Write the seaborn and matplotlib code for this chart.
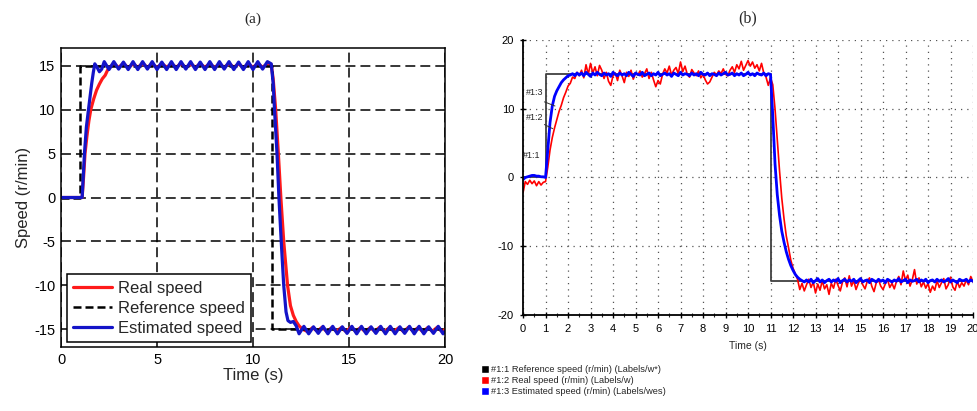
import numpy as np
import pandas as pd
import matplotlib
matplotlib.use("Agg")
import matplotlib.pyplot as plt
from matplotlib.lines import Line2D
from matplotlib.patches import Patch
import seaborn as sns

# ---------------- data: panel (a) ----------------
ref_a_t = [0, 1, 1, 11, 11, 20]
ref_a_v = [0, 0, 15, 15, -15, -15]

real_a_t = ([0.0, 1.1, 1.18, 1.25, 1.35, 1.45, 1.55, 1.7, 1.85, 2.0, 2.15, 2.3, 2.45]
            + list(np.arange(2.75, 10.8, 0.25))
            + [10.95, 11.05, 11.18, 11.32, 11.45, 11.6, 11.8, 11.95, 12.1, 12.25, 12.4, 12.6]
            + list(np.arange(12.85, 19.9, 0.25)) + [20.0])
real_a_v = ([0, 0, 2.5, 5, 7, 8.7, 10, 11.2, 12.2, 12.9, 13.5, 13.9, 14.6]
            + [15.2, 14.8, 15.25, 14.75, 15.2, 14.8, 15.25, 14.8, 15.2, 14.75, 15.25,
               14.8, 15.2, 14.8, 15.25, 14.75, 15.2, 14.8, 15.2, 14.8, 15.25, 14.75,
               15.2, 14.8, 15.25, 14.8, 15.2, 14.75, 15.2, 14.8, 15.25, 14.8, 15.2]
            + [15.1, 13.5, 10, 5, 0, -5, -10, -12.3, -13.4, -14.1, -14.6, -15.0]
            + [-15.25, -14.8, -15.2, -14.75, -15.25, -14.8, -15.2, -14.8, -15.25, -14.75,
               -15.2, -14.8, -15.25, -14.8, -15.2, -14.75, -15.25, -14.8, -15.2, -14.8,
               -15.25, -14.75, -15.2, -14.8, -15.25, -14.8, -15.2, -14.75, -15.25]
            + [-15.0])

est_a_t = ([0.0, 1.1, 1.22, 1.32, 1.43, 1.52, 1.6, 1.68, 1.76, 1.88, 2.0, 2.12]
           + list(np.arange(2.25, 10.8, 0.25))
           + [10.95, 11.05, 11.12, 11.25, 11.35, 11.47, 11.6, 11.72, 11.82, 11.95, 12.1, 12.25]
           + list(np.arange(12.4, 19.95, 0.25)) + [20.0])
est_a_v = ([0, 0, 5, 8, 10, 11.6, 13, 14.2, 15.2, 14.8, 14.3, 14.6]
           + [15.45, 14.55, 15.45, 14.6, 15.4, 14.55, 15.45, 14.55, 15.45, 14.6, 15.45, 14.55,
              15.4, 14.55, 15.45, 14.55, 15.45, 14.6, 15.45, 14.55, 15.4, 14.55, 15.45, 14.55,
              15.45, 14.6, 15.45, 14.55, 15.4, 14.55, 15.45, 14.55, 15.45, 14.6, 15.45]
           + [15.2, 13.0, 10.0, 5.0, 0.0, -5.0, -10.0, -13.0, -14.0, -14.2, -14.1, -14.6]
           + [-15.5, -14.65, -15.5, -14.7, -15.45, -14.65, -15.5, -14.65, -15.5, -14.7,
              -15.45, -14.65, -15.5, -14.65, -15.5, -14.7, -15.45, -14.65, -15.5, -14.65,
              -15.5, -14.7, -15.45, -14.65, -15.5, -14.65, -15.5, -14.7, -15.45, -14.65,
              -15.5]
           + [-15.2])

# ---------------- data: panel (b) ----------------
ref_b_t = [0, 1, 1, 11, 11, 20]
ref_b_v = [0, 0, 15, 15, -15, -15]

time_b = np.round(np.linspace(0, 20, 201), 2)

real_b = [
    -2.2, -0.6, -1.0, -0.4, -0.9, -0.5, -1.2, -0.6, -1.1, -0.7, -0.6,
    1.5, 4.0, 5.8, 7.2, 8.4, 9.6, 10.5, 11.6, 12.4, 13.3, 13.7, 14.6, 14.4, 15.3,
    14.8, 15.6, 14.5, 16.4, 15.0, 16.6,
    15.2, 16.1, 14.8, 16.3, 15.6, 14.4, 15.3, 14.0, 13.4, 14.8,
    15.2, 14.1, 15.6, 14.8, 13.8, 15.3, 14.7, 15.6, 14.3, 15.2,
    14.9, 15.5, 14.6, 15.1, 15.8, 14.4, 15.3, 14.2, 13.2, 14.1,
    13.6, 15.0, 15.8, 15.2, 16.2, 14.9, 15.6, 16.0, 15.1, 16.8,
    15.4, 16.2, 15.0, 14.6, 15.7, 15.2, 14.8, 15.5, 14.5, 15.0,
    14.2, 13.6, 13.9, 14.6, 15.3, 14.9, 15.5, 15.1, 15.8, 15.0,
    14.8, 15.6, 16.1, 15.3, 16.4, 15.8, 16.9, 15.6, 16.3, 17.0,
    16.2, 16.8, 15.9, 16.4, 15.5, 16.6, 15.2, 14.6, 13.4, 14.5,
    13.5, 10.0, 5.5, 1.0, -3.0, -6.0, -8.5, -10.2, -12.0, -13.2,
    -14.0, -14.8, -16.3, -15.4, -16.5,
    -15.6, -14.8, -16.0, -15.2, -16.8, -15.5, -16.4, -15.0, -16.2, -15.6,
    -17.0, -15.4, -16.1, -14.8, -15.7, -16.5, -15.2, -14.6, -15.9, -14.3,
    -15.8, -15.0, -16.3, -15.4, -14.7, -15.6, -16.2, -15.1, -14.6, -15.8,
    -16.6, -15.3, -14.9, -15.8, -16.3, -15.5, -14.8, -16.0, -15.4, -16.2,
    -15.1, -14.4, -15.6, -13.6, -15.0, -14.2, -15.8, -14.9, -13.4, -15.5,
    -14.6, -15.9, -15.2, -16.1, -15.4, -16.7, -15.8, -16.4, -15.0, -16.0,
    -15.3, -14.7, -16.2, -15.6, -14.5, -15.9, -16.4, -15.1, -16.0, -15.3,
    -15.8, -14.9, -15.6, -14.4, -15.2,
]

est_b = [
    -0.3, 0.0, 0.1, 0.2, 0.3, 0.3, 0.2, 0.2, 0.1, 0.1, 0.0,
    4.0, 8.0, 10.4, 11.8, 12.6, 13.2, 13.8, 14.2, 14.5, 14.8, 14.9, 15.1, 14.8, 15.2,
    14.9, 15.2, 14.8, 15.3, 15.0, 14.7, 15.2, 14.9, 15.3, 15.0,
    14.8, 15.2, 14.9, 15.1, 14.7, 15.3, 15.0, 14.8, 15.2, 14.9,
    15.1, 14.8, 15.3, 15.0, 14.7, 15.2, 15.0, 14.9, 15.3, 14.8,
    15.0, 15.2, 14.8, 15.1, 14.9, 15.3, 14.8, 15.0, 15.2, 14.9,
    15.1, 14.7, 15.2, 15.0, 14.8, 15.3, 14.9, 15.1, 15.0, 14.8,
    15.2, 14.9, 15.1, 14.8, 15.3, 15.0, 14.9, 15.2, 14.8, 15.1,
    15.0, 14.8, 15.2, 14.9, 15.1, 15.3, 14.9, 15.0, 15.2, 14.8,
    15.1, 14.9, 15.2, 14.8, 15.0, 15.3, 14.9, 15.1, 14.8, 15.2,
    15.0, 14.9, 15.2, 14.8, 15.1, 15.0,
    9.0, 2.0, -2.5, -5.5, -7.8, -9.4, -10.8, -11.9, -12.8, -13.5,
    -14.1, -14.5, -14.8, -15.0, -15.2,
    -14.9, -15.2, -14.8, -15.3, -15.0, -14.7, -15.2, -14.9, -15.3, -15.0,
    -14.8, -15.2, -14.9, -15.1, -14.7, -15.3, -15.0, -14.8, -15.2, -14.9,
    -15.1, -14.8, -15.3, -15.0, -14.7, -15.2, -15.0, -14.9, -15.3, -14.8,
    -15.0, -15.2, -14.8, -15.1, -14.9, -15.3, -14.8, -15.0, -15.2, -14.9,
    -15.1, -14.7, -15.2, -15.0, -14.8, -15.3, -14.9, -15.1, -15.0, -14.8,
    -15.2, -14.9, -15.1, -14.8, -15.3, -15.0, -14.9, -15.2, -14.8, -15.1,
    -14.9, -15.2, -15.0, -14.7, -15.2, -14.9, -15.1, -15.3, -14.8, -15.0,
    -15.0, -14.8, -15.2, -14.9, -15.1,
]

legend_a = ["Real speed", "Reference speed", "Estimated speed"]
legend_b = ["#1:1 Reference speed (r/min) (Labels/w*)",
            "#1:2 Real speed (r/min) (Labels/w)",
            "#1:3 Estimated speed (r/min) (Labels/wes)"]

# ---------------- style ----------------
sns.set_style("white", {"axes.edgecolor": "black"})
plt.rcParams["font.family"] = ["Liberation Sans", "DejaVu Sans"]
plt.rcParams["axes.unicode_minus"] = False

RED_A = "#ff1a1a"
BLUE_A = "#1414c8"

fig = plt.figure(figsize=(9.78, 4.11), dpi=100)
ax1 = fig.add_axes([0.0624, 0.1557, 0.3926, 0.7275])
ax2 = fig.add_axes([0.5348, 0.2336, 0.4601, 0.6691])

# ---------------- panel (a) ----------------
sns.lineplot(x=real_a_t, y=real_a_v, ax=ax1, color=RED_A, lw=2.3,
             estimator=None, sort=False)
sns.lineplot(x=ref_a_t, y=ref_a_v, ax=ax1, color="black", lw=1.8,
             estimator=None, sort=False, linestyle=(0, (3.2, 1.6)))
sns.lineplot(x=est_a_t, y=est_a_v, ax=ax1, color=BLUE_A, lw=2.3,
             estimator=None, sort=False)

ax1.set_xlim(0, 20)
ax1.set_ylim(-17, 17)
ax1.set_xticks([0, 5, 10, 15, 20])
ax1.set_yticks([-15, -10, -5, 0, 5, 10, 15])
ax1.grid(True, color="black", lw=1.1, linestyle=(0, (6.5, 3.3)))
ax1.set_axisbelow(True)
for s in ax1.spines.values():
    s.set_linewidth(1.1)
    s.set_color("black")
ax1.tick_params(direction="in", length=4, labelsize=10.5, pad=4, colors="black")
ax1.set_xlabel("Time (s)", fontsize=12, labelpad=1)
ax1.set_ylabel("Speed (r/min)", fontsize=12, labelpad=2)
ax1.set_title("(a)", fontsize=11, family="Liberation Serif", pad=18)

handles_a = [Line2D([], [], color=RED_A, lw=2.3),
             Line2D([], [], color="black", lw=1.8, linestyle=(0, (3.2, 1.6))),
             Line2D([], [], color=BLUE_A, lw=2.3)]
leg = ax1.legend(handles_a, legend_a, loc="lower left", bbox_to_anchor=(0.015, 0.016),
                 borderaxespad=0, fontsize=12, handlelength=2.3, handletextpad=0.35,
                 labelspacing=0.3, borderpad=0.4, fancybox=False, framealpha=1)
leg.get_frame().set_edgecolor("black")
leg.get_frame().set_linewidth(1.1)

# ---------------- panel (b) ----------------
sns.lineplot(x=ref_b_t, y=ref_b_v, ax=ax2, color="#404040", lw=1.3,
             estimator=None, sort=False)
sns.lineplot(x=time_b, y=real_b, ax=ax2, color="#ff0000", lw=1.2,
             estimator=None, sort=False)
sns.lineplot(x=time_b, y=est_b, ax=ax2, color="#0000ff", lw=2.0,
             estimator=None, sort=False)

ax2.set_xlim(0, 20)
ax2.set_ylim(-20, 20)
ax2.set_xticks(range(0, 21))
ax2.set_xticks(np.arange(0.5, 20, 1.0), minor=True)
ax2.set_yticks([-20, -10, 0, 10, 20])
ax2.grid(True, which="major", color="#555555", lw=0.9, linestyle=(0, (1, 4)))
ax2.set_axisbelow(True)
ax2.spines["top"].set_visible(False)
ax2.spines["right"].set_visible(False)
for s in ("left", "bottom"):
    ax2.spines[s].set_linewidth(1.3)
    ax2.spines[s].set_color("black")
ax2.tick_params(which="major", direction="inout", length=5, width=1, labelsize=8,
                pad=4, colors="black", left=True, bottom=True)
ax2.tick_params(which="minor", direction="inout", length=3, width=0.8, bottom=True)
ax2.set_xlabel("Time (s)", fontsize=7.5, labelpad=5)
ax2.set_ylabel("")
ax2.set_title("(b)", fontsize=11.5, family="Liberation Serif", pad=13)

ax2.text(0.12, 12.3, "#1:3", fontsize=6.5, va="center")
ax2.text(0.12, 8.7, "#1:2", fontsize=6.5, va="center")
ax2.text(0.0, 3.2, "#1:1", fontsize=6.5, va="center")
ax2.plot([0.95, 1.42], [11.0, 10.4], color="#333333", lw=0.7)
ax2.plot([0.95, 1.32], [7.7, 7.1], color="#333333", lw=0.7)

handles_b = [Patch(facecolor="black"), Patch(facecolor="#ff0000"), Patch(facecolor="#0000ff")]
fig.legend(handles_b, legend_b, loc="upper left", bbox_to_anchor=(0.492, 0.112),
           frameon=False, fontsize=6.7, handlelength=0.8, handleheight=0.9,
           handletextpad=0.3, labelspacing=0.22, borderpad=0, borderaxespad=0)

fig.savefig("out.png", dpi=100, facecolor="white")
